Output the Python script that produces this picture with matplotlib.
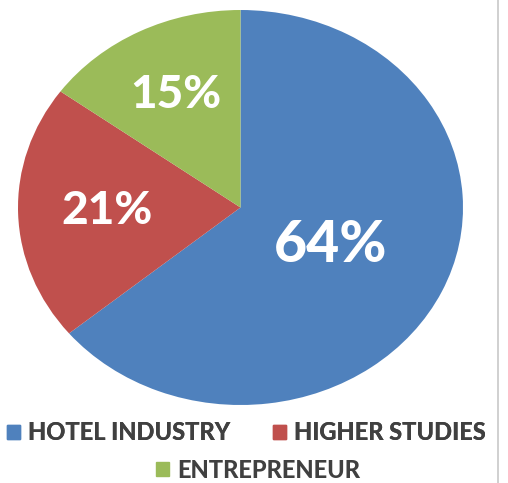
import matplotlib.pyplot as plt
import numpy as np
from matplotlib.patches import Patch
from matplotlib.lines import Line2D

labels = ["HOTEL INDUSTRY", "HIGHER STUDIES", "ENTREPRENEUR"]
shares = [64, 21, 15]
colors = ["#4F81BD", "#C0504D", "#9BBB59"]
label_dist = [0.45, 0.6, 0.64]
label_size = [41, 33, 33]

plt.rcParams['font.family'] = ['Lato', 'DejaVu Sans']

fig = plt.figure(figsize=(5.08, 4.83), dpi=100)
ax = fig.add_axes([18 / 508, 1 - 405 / 483, 445 / 508, 395 / 483])
wedges, texts, autotexts = ax.pie(shares, colors=colors, startangle=90, counterclock=False,
                                  autopct="%d%%", wedgeprops=dict(linewidth=0))
ax.set_aspect('auto')
ax.set_xlim(-1, 1)
ax.set_ylim(-1, 1)

for w, t, d, s in zip(wedges, autotexts, label_dist, label_size):
    ang = np.deg2rad((w.theta1 + w.theta2) / 2)
    t.set_position((d * np.cos(ang), d * np.sin(ang)))
    t.set_color("white")
    t.set_fontweight(900)
    t.set_fontsize(s)

text_color = "#404040"
handles = [Patch(color=c) for c in colors]
leg1 = fig.legend(handles[:2], labels[:2], loc="center", bbox_to_anchor=(0.485, 1 - 433 / 483),
                  ncol=2, frameon=False, handlelength=0.55, handleheight=0.55, handletextpad=0.35,
                  columnspacing=1.8, prop=dict(weight=900, size=17), labelcolor=text_color)
leg2 = fig.legend(handles[2:], labels[2:], loc="center", bbox_to_anchor=(0.508, 1 - 470 / 483),
                  frameon=False, handlelength=0.55, handleheight=0.55, handletextpad=0.35,
                  prop=dict(weight=900, size=17), labelcolor=text_color)
fig.add_artist(leg1)

fig.add_artist(Line2D([498 / 508, 498 / 508], [0, 1], color="#C8C8C8", linewidth=1.2))

fig.savefig("out.png", dpi=100)
